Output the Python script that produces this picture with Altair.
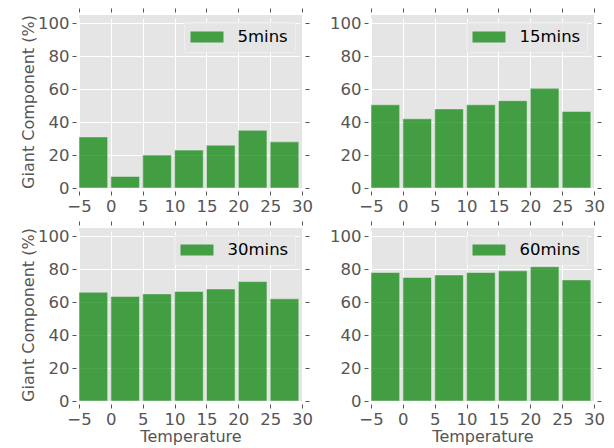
import altair as alt
import pandas as pd

# Bar positions (left edges, °C) and the share in the giant component (%)
temperatures = [-5, 0, 5, 10, 15, 20, 25]
durations = ["5mins", "15mins", "30mins", "60mins"]
giant_5 = [31, 7, 20, 23, 26, 35, 28]
giant_15 = [50.5, 42, 48, 50.5, 53, 60.5, 46.5]
giant_30 = [66, 63.5, 65, 66.5, 68, 72.5, 62]
giant_60 = [78, 75, 76.5, 78, 79, 81.5, 73.5]

x_ticks = [-5, 0, 5, 10, 15, 20, 25, 30]
y_ticks = [0, 20, 40, 60, 80, 100]

BAR_WIDTH = 4.5
FONT = "DejaVu Sans"
PANEL_W, PANEL_H = 223, 173


def panel(values, label, x_title, y_title):
    df = pd.DataFrame({"Temperature": temperatures, "Giant": values, "Series": label})
    base = alt.Chart(df)
    x_scale = alt.Scale(domain=[-5, 30], nice=False, zero=False, padding=0)
    y_scale = alt.Scale(domain=[0, 105], nice=False, padding=0)

    x_axis = alt.Axis(values=x_ticks, title=x_title) if x_title else alt.Axis(values=x_ticks, title=None)
    y_axis = alt.Axis(values=y_ticks, title=y_title) if y_title else alt.Axis(values=y_ticks, title=None)

    bars = (
        base.transform_calculate(right=f"datum.Temperature + {BAR_WIDTH}")
        .mark_bar(opacity=0.7, stroke="#EEEEEE", strokeWidth=0.5)
        .encode(
            x=alt.X("Temperature:Q", scale=x_scale, axis=x_axis),
            x2="right:Q",
            y=alt.Y("Giant:Q", scale=y_scale, axis=y_axis),
            y2=alt.datum(0),
            color=alt.Color(
                "Series:N",
                scale=alt.Scale(domain=[label], range=["green"]),
                legend=alt.Legend(
                    title=None,
                    orient="top-right",
                    offset=7,
                    padding=6.5,
                    fillColor="rgba(229,229,229,0.8)",
                    strokeColor="rgba(240,240,240,0.9)",
                    cornerRadius=2,
                    # wide flat swatch (33 x 11 px) starting at the entry's left edge
                    symbolType="M-1,-0.647H2.88V0.647H-1Z",
                    symbolSize=289,
                    symbolStrokeWidth=0,
                    symbolOpacity=0.7,
                    labelFontSize=16.5,
                    labelColor="black",
                    labelFont=FONT,
                    labelOffset=30,
                ),
            ),
        )
    )

    # tick marks on the top and right edges
    frame = base.mark_point(opacity=0).encode(
        x=alt.X("Temperature:Q", scale=x_scale,
                axis=alt.Axis(orient="top", values=x_ticks, labels=False, grid=False, title=None)),
        y=alt.Y("Giant:Q", scale=y_scale,
                axis=alt.Axis(orient="right", values=y_ticks, labels=False, grid=False, title=None)),
    )

    return (
        alt.layer(bars, frame)
        .resolve_axis(x="independent", y="independent")
        .properties(width=PANEL_W, height=PANEL_H)
    )


p5 = panel(giant_5, durations[0], None, "Giant Component (%)")
p15 = panel(giant_15, durations[1], None, None)
p30 = panel(giant_30, durations[2], "Temperature", "Giant Component (%)")
p60 = panel(giant_60, durations[3], "Temperature", None)

top = alt.hconcat(p5, p15, spacing=16).resolve_scale(color="independent")
bottom = alt.hconcat(p30, p60, spacing=16).resolve_scale(color="independent")

chart = (
    alt.vconcat(top, bottom, spacing=5)
    .resolve_scale(color="independent")
    .properties(padding={"left": 20, "top": 7, "right": 0, "bottom": 0}, background="white")
    .configure_view(fill="#E5E5E5", strokeWidth=0)
    .configure_axis(
        labelFont=FONT,
        titleFont=FONT,
        labelFontSize=16.5,
        titleFontSize=16,
        labelColor="#555555",
        titleColor="#555555",
        titleFontWeight="normal",
        tickColor="#555555",
        tickSize=4,
        offset=3,
        labelPadding=3,
        labelFlush=False,
        titlePadding=1,
        domain=False,
        gridColor="white",
        gridWidth=1,
    )
)

chart.save("out.html", embed_options={"renderer": "svg", "actions": False})
